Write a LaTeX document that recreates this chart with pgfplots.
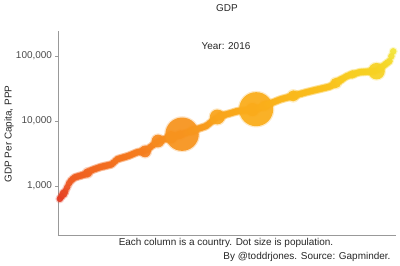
\documentclass[border=0pt]{standalone}
\usepackage{pgfplots}
\pgfplotsset{compat=1.18}
\usepackage{pgfplotstable}
\usepackage{fontspec}
\setmainfont{Liberation Sans}
\pgfplotstableread{
i gdp pop
1 631 10
2 692 14
3 759 79
4 832 12
5 955 20
6 1096 26
7 1202 18
8 1276 5
9 1349 25
10 1374 11
11 1403 8
12 1429 4
13 1455 15
14 1486 20
15 1514 12
16 1585 102
17 1660 41
18 1738 35
19 1778 7
20 1820 28
21 1862 3
22 1905 18
23 1950 11
24 1982 29
25 2009 55
26 2042 4
27 2075 16
28 2104 2
29 2138 24
30 2275 1
31 2415 6
32 2570 48
33 2618 9
34 2673 28
35 2723 2
36 2773 23
37 2831 1
38 2884 8
39 2965 16
40 3048 6
41 3133 40
42 3221 3
43 3311 15
44 3330 1
45 3350 4
46 3370 27
47 3388 163
48 3573 2
49 3767 30
50 3972 7
51 4178 2
52 4406 53
53 4645 1
54 4898 193
55 4989 3
56 5082 9
57 5176 1
58 5272 28
59 5370 2
60 5470 16
61 5585 186
62 5689 6
63 5794 1
64 5902 11
65 6012 3
66 6124 95
67 6237 1324
68 6383 4
69 6516 9
70 6668 1
71 6808 32
72 6966 2
73 7129 103
74 7278 7
75 7447 1
76 7621 11
77 7780 3
78 7962 0.5
79 8128 36
80 8318 5
81 8770 17
82 9268 1
83 9772 10
84 10300 40
85 10890 3
86 11480 261
87 11700 2
88 11910 96
89 12160 11
90 12390 3
91 12620 0.8
92 12850 6
93 13090 31
94 13340 2
95 13610 4
96 13870 56
97 14130 1
98 14220 49
99 14320 7
100 14420 3
101 14520 10
102 14620 17
103 14720 2
104 14830 1
105 14930 208
106 15030 4
107 15140 1379
108 15550 7
109 15960 69
110 16410 2
111 16830 80
112 17300 128
113 17740 1
114 18240 7
115 18710 3
116 19230 10
117 19720 21
118 20280 4
119 20800 44
120 21380 2
121 21780 1
122 22180 9
123 22590 32
124 22960 3
125 23390 0.5
126 23820 6
127 24270 144
128 24720 80
129 25180 2
130 25650 4
131 26060 1
132 26550 38
133 27040 10
134 27540 5
135 27990 2
136 28440 31
137 28910 1
138 29380 11
139 29850 4
140 30340 10
141 30760 0.5
142 31260 5
143 31770 19
144 32280 10
145 32810 2
146 33340 46
147 33880 51
148 35320 1
149 36810 60
150 38280 127
151 39900 8
152 41590 66
153 43350 67
154 45080 5
155 46990 36
156 48980 1
157 50000 11
158 50930 24
159 52000 82
160 52970 10
161 54080 9
162 55080 17
163 56230 5
164 56490 9
165 56620 32
166 56890 0.3
167 57150 5
168 57280 1
169 57540 8
170 57810 4
171 57940 9
172 58210 323
173 61240 5
174 64420 8
175 67760 0.4
176 71450 4
177 75160 5
178 79070 0.6
179 83180 6
180 98860 0.6
181 117500 2.6
}\gdpdata
\begin{document}
\begin{tikzpicture}[x=1bp,y=1bp]
\useasboundingbox (0,0) rectangle (400,266);
\begin{axis}[
  at={(58bp,31bp)}, anchor=south west,
  width=338bp, height=204bp, scale only axis,
  xmin=0, xmax=182.5,
  ymode=log, ymin=175, ymax=242000,
  axis x line=bottom, axis y line=left,
  axis line style={-, draw=black!40, line width=0.8pt},
  xtick=\empty,
  ytick={1000,10000,100000},
  yticklabels={{1,000},{10,000},{100,000}},
  yminorticks=false,
  yticklabel style={font=\fontsize{10}{11}\selectfont, text=black!70},
  ytick style={draw=black!40, line width=0.6pt},
  tick align=outside, major tick length=2.5bp,
  clip=false,
  colormap={gdpmap}{rgb255(0cm)=(228,58,35); rgb255(10cm)=(238,88,35); rgb255(30cm)=(245,122,30); rgb255(44cm)=(247,148,30); rgb255(61cm)=(250,172,26); rgb255(75cm)=(250,192,28); rgb255(87cm)=(247,210,35); rgb255(100cm)=(242,228,55)},
  point meta min=2.8, point meta max=5.07,
]
\addplot[scatter, only marks, mark=*,
  mark options={draw opacity=0, fill opacity=0.25},
  point meta={ln(\thisrow{gdp})/ln(10)},
  scatter/use mapped color={fill=mapped color},
  visualization depends on={max(3.3,0.46*sqrt(\thisrow{pop}))+1.3 \as \gsize},
  scatter/@pre marker code/.append style={/tikz/mark size=\gsize}]
  table[x=i, y=gdp] {\gdpdata};
\addplot[scatter, only marks, mark=*,
  mark options={draw opacity=0, fill opacity=0.92},
  point meta={ln(\thisrow{gdp})/ln(10)},
  scatter/use mapped color={fill=mapped color},
  visualization depends on={max(3.3,0.46*sqrt(\thisrow{pop})) \as \msize},
  scatter/@pre marker code/.append style={/tikz/mark size=\msize}]
  table[x=i, y=gdp] {\gdpdata};
\end{axis}
\node[font=\fontsize{10}{12}\selectfont, text=black!85] at (227,257.5) {GDP};
\node[font=\fontsize{10}{12}\selectfont, text=black!85] at (226,220) {Year: 2016};
\node[font=\fontsize{10}{12}\selectfont, text=black!85, rotate=90] at (9,132) {GDP Per Capita, PPP};
\node[font=\fontsize{10}{12}\selectfont, text=black!85] at (226,23) {Each column is a country. Dot size is population.};
\node[font=\fontsize{10}{12}\selectfont, text=black!85, anchor=east] at (394,9) {By @toddrjones. Source: Gapminder.};
\end{tikzpicture}
\end{document}
